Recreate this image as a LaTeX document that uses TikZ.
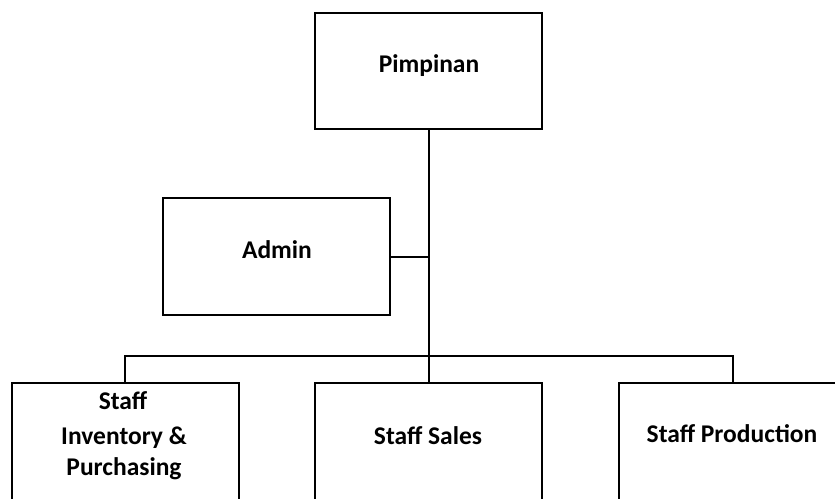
\documentclass[tikz,border=0pt]{standalone}
\usepackage{fontspec}
\setmainfont{Carlito}
\begin{document}
\begin{tikzpicture}[x=1pt,y=-1pt,
  box/.style={draw=black,line width=2pt,fill=white},
  lbl/.style={font=\bfseries\fontsize{25.5}{31}\selectfont,align=center,inner sep=0pt},
  conn/.style={draw=black,line width=2pt}]
\useasboundingbox[fill=white] (0,0) rectangle (835,498);
\begin{scope}
\clip (0,0) rectangle (835,498);
% boxes
\draw[box] (315,13) rectangle (542,129);
\draw[box] (163,198) rectangle (390,315);
\draw[box] (12,383) rectangle (239,520);
\draw[box] (315,383) rectangle (542,520);
\draw[box] (619,383) rectangle (850,520);
\coordinate (pimB) at (429,129);
\coordinate (admR) at (390,257);
\coordinate (adjJ) at (429,257);
\coordinate (barL) at (125,356);
\coordinate (barM) at (429,356);
\coordinate (barR) at (733,356);
\coordinate (invT) at (125,383);
\coordinate (salT) at (429,383);
\coordinate (proT) at (733,383);
% connectors
\draw[conn] (pimB) -- (barM);
\draw[conn] (admR) -- (adjJ);
\draw[conn] (invT) -- (barL) -- (barR) -- (proT);
\draw[conn] (barM) -- (salT);
% labels
\node[lbl] (pim) at (429,66) {Pimpinan};
\node[lbl] (adm) at (277,250) {Admin};
\node[lbl] (inv1) at (123,401) {Staff};
\node[lbl] (inv2) at (124,453) {Inventory \&\\Purchasing};
\node[lbl] (sal) at (428,436) {Staff Sales};
\node[lbl] (pro) at (732,434) {Staff Production};
\end{scope}
\end{tikzpicture}
\end{document}
